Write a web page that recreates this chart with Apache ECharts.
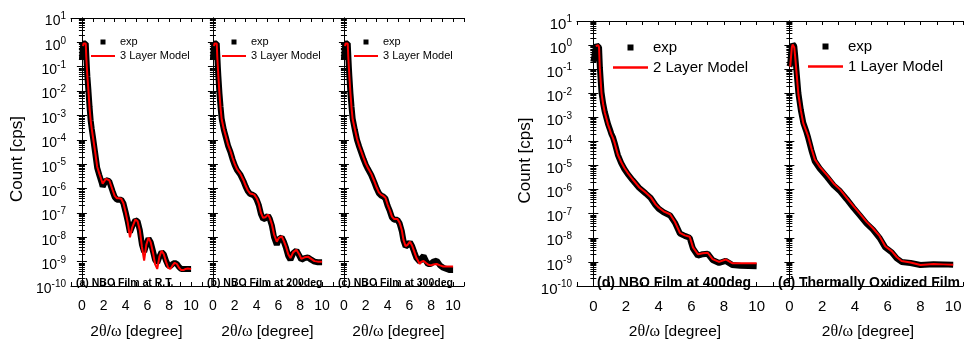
<!DOCTYPE html>
<html><head><meta charset="utf-8">
<script src="https://cdn.jsdelivr.net/npm/echarts@6/dist/echarts.min.js"></script>
<style>html,body{margin:0;padding:0;background:#fff}#c{width:966px;height:345px}</style>
</head><body><div id="c"></div>
<script>
// ---------- data ----------
const xA = [0.0,0.05,0.1,0.15,0.2,0.3,0.35,0.4,0.45,0.5,0.6,0.7,0.8,0.9,1.0,1.2,1.4,1.6,1.8,1.9,2.0,2.2,2.35,2.5,2.8,3.0,3.2,3.4,3.6,3.8,4.0,4.2,4.4,4.6,4.9,5.1,5.3,5.5,5.7,5.9,6.1,6.3,6.5,6.7,6.9,7.1,7.3,7.5,7.7,7.9,8.1,8.3,8.5,8.7,8.9,9.1,9.3,9.5,9.7,10.0];
const expA = [2e-1,4e-1,7e-1,9e-1,1.0,1.0,9e-1,3e-1,1e-1,4e-2,1e-2,2.2e-3,6.3e-4,2.8e-4,1.4e-4,3.2e-5,7e-6,3.5e-6,1.8e-6,1.2e-6,1.3e-6,2.2e-6,2.5e-6,2e-6,8e-7,4.5e-7,3.5e-7,3.5e-7,3.5e-7,2.5e-7,1.1e-7,4.5e-8,1.6e-8,2.8e-8,5e-8,4.5e-8,2e-8,5e-9,2.5e-9,5e-9,9e-9,6.3e-9,2.8e-9,1.2e-9,9e-10,1.6e-9,2.5e-9,2e-9,1.1e-9,7e-10,6.5e-10,8e-10,9e-10,8e-10,6e-10,5e-10,5e-10,5e-10,5e-10,5e-10];
const modelA = [null,null,7e-1,9e-1,1.0,1.0,9e-1,2.5e-1,1e-1,4e-2,1e-2,2e-3,6.3e-4,2.8e-4,1.4e-4,3.5e-5,7.9e-6,4e-6,2.2e-6,1.6e-6,1.8e-6,2.5e-6,2.8e-6,2.2e-6,8.9e-7,5e-7,4e-7,4e-7,3.8e-7,2.5e-7,1.1e-7,4e-8,1e-8,2.5e-8,5.4e-8,4.5e-8,2e-8,4e-9,1.1e-9,5e-9,9.5e-9,6.3e-9,2.5e-9,8e-10,5e-10,1.6e-9,2.8e-9,2e-9,1e-9,5.6e-10,5e-10,7e-10,9e-10,8e-10,5.6e-10,4.5e-10,4.5e-10,5e-10,5.2e-10,5e-10];

const xB = [0.0,0.05,0.1,0.15,0.2,0.3,0.35,0.4,0.45,0.5,0.6,0.7,0.8,1.0,1.2,1.4,1.6,1.8,2.0,2.2,2.5,2.8,3.0,3.2,3.4,3.6,3.8,4.0,4.2,4.4,4.6,4.8,5.05,5.2,5.4,5.6,5.85,6.05,6.3,6.5,6.7,6.9,7.1,7.35,7.65,7.9,8.1,8.4,8.7,9.0,9.3,9.6,10.0];
const expB = [2e-1,4e-1,7e-1,9e-1,1.0,1.0,9e-1,3e-1,1e-1,4e-2,8e-3,2.2e-3,7.5e-4,2.6e-4,1.2e-4,5.5e-5,3.2e-5,1.6e-5,9e-6,5.8e-6,3.8e-6,2e-6,1.2e-6,7.8e-7,6e-7,5.6e-7,5e-7,3.6e-7,2.1e-7,9e-8,5.6e-8,6e-8,7.8e-8,5.8e-8,3e-8,1e-8,5e-9,8.5e-9,1e-8,6.5e-9,3.6e-9,1.7e-9,1.2e-9,2.2e-9,2.9e-9,1.8e-9,1.2e-9,1.4e-9,1.5e-9,1.2e-9,1e-9,9.5e-10,9.5e-10];
const modelB = [null,null,7e-1,9e-1,1.0,1.0,9e-1,2.5e-1,1e-1,4e-2,8e-3,2e-3,7e-4,2.8e-4,1.3e-4,6e-5,3.5e-5,1.8e-5,1e-5,6.3e-6,4.1e-6,2.2e-6,1.3e-6,8.3e-7,6.3e-7,6e-7,5.5e-7,4e-7,2.4e-7,1e-7,6.3e-8,6.6e-8,8.5e-8,6.3e-8,3.4e-8,1.3e-8,6.6e-9,9.5e-9,1.1e-8,7e-9,4e-9,2e-9,1.4e-9,2.4e-9,3.1e-9,2e-9,1.3e-9,1.5e-9,1.6e-9,1.3e-9,1.05e-9,1e-9,1e-9];

const xC = [0.0,0.05,0.1,0.15,0.2,0.3,0.35,0.4,0.45,0.5,0.6,0.7,0.8,1.0,1.2,1.4,1.6,1.8,2.0,2.2,2.5,2.8,3.0,3.2,3.4,3.6,3.8,4.0,4.2,4.4,4.6,4.9,5.1,5.3,5.45,5.65,5.85,6.05,6.25,6.45,6.65,6.95,7.1,7.3,7.5,7.7,7.95,8.2,8.5,8.8,9.1,9.4,9.7,10.0];
const expC = [2e-1,4e-1,7e-1,9e-1,1.0,1.0,9e-1,3e-1,1e-1,4e-2,8e-3,2.2e-3,7.5e-4,2.6e-4,1e-4,5.2e-5,2.9e-5,1.6e-5,9.5e-6,6.3e-6,3.6e-6,1.7e-6,1e-6,6.5e-7,5.2e-7,4.7e-7,3.9e-7,2e-7,1.2e-7,6.5e-8,5.2e-8,5.2e-8,3.7e-8,1.8e-8,7.5e-9,4.2e-9,4.8e-9,6.3e-9,4.3e-9,2.4e-9,1.4e-9,1e-9,1.4e-9,1.7e-9,1.1e-9,8e-10,8e-10,1e-9,1.1e-9,7e-10,5.6e-10,5e-10,4.5e-10,4.5e-10];
const modelC = [null,null,7e-1,9e-1,1.0,1.0,9e-1,2.5e-1,1e-1,4e-2,8e-3,2e-3,7e-4,2.8e-4,1.1e-4,5.6e-5,3.2e-5,1.8e-5,1.05e-5,7e-6,4e-6,1.9e-6,1.1e-6,7e-7,5.6e-7,5e-7,4.2e-7,2.2e-7,1.3e-7,7e-8,5.6e-8,5.6e-8,4e-8,2e-8,8e-9,4.3e-9,5e-9,6.6e-9,4.5e-9,2.5e-9,1.4e-9,8e-10,1e-9,1.07e-9,9e-10,7.6e-10,7e-10,7.6e-10,8e-10,7e-10,6.3e-10,6.3e-10,6.3e-10,6.3e-10];

const xD = [0.0,0.05,0.1,0.15,0.2,0.3,0.35,0.4,0.45,0.5,0.6,0.7,0.8,0.9,1.0,1.1,1.2,1.3,1.5,1.7,1.9,2.1,2.4,2.8,3.2,3.5,3.8,4.0,4.3,4.7,5.0,5.3,5.6,5.9,6.1,6.4,6.7,7.0,7.3,7.7,8.1,8.5,9.0,9.5,10.0];
const expD = [2e-1,3e-1,5e-1,8e-1,1.0,1.0,8e-1,1.2e-1,3.5e-2,1.1e-2,3.8e-3,1.7e-3,9.5e-4,5.3e-4,3.4e-4,2.1e-4,1.5e-4,9e-5,2.8e-5,1.3e-5,7.2e-6,4.5e-6,2.5e-6,1.2e-6,7e-7,4.6e-7,2.3e-7,1.6e-7,1.15e-7,8.5e-8,4.2e-8,1.5e-8,1.2e-8,1e-8,3.6e-9,1.8e-9,2.1e-9,2.2e-9,1.2e-9,9e-10,1.1e-9,7.5e-10,7e-10,6.8e-10,6.6e-10];
const modelD = [null,null,null,9e-1,1.0,1.0,8e-1,1e-1,3.2e-2,1e-2,3.5e-3,1.6e-3,8.9e-4,5e-4,3.2e-4,2e-4,1.4e-4,8.9e-5,2.8e-5,1.4e-5,7.9e-6,5e-6,2.7e-6,1.26e-6,7.6e-7,5e-7,2.5e-7,1.8e-7,1.26e-7,9.5e-8,4.5e-8,1.6e-8,1.26e-8,1.1e-8,4e-9,2.1e-9,2.3e-9,2.4e-9,1.3e-9,1e-9,1.26e-9,8.9e-10,8.7e-10,8.9e-10,8.9e-10];

const xE = [0.0,0.05,0.1,0.15,0.2,0.25,0.3,0.35,0.45,0.55,0.7,0.85,1.05,1.15,1.35,1.55,1.85,2.3,2.7,3.1,3.5,3.9,4.3,4.7,5.1,5.5,5.85,6.25,6.55,6.85,7.4,8.0,8.8,9.4,10.0];
const expE = [1.3e-1,1.6e-1,4e-1,8e-1,1.1,1.1,9e-1,4e-1,6.3e-2,1e-2,2e-3,6e-4,2.4e-4,1.4e-4,4.2e-5,1.5e-5,7.5e-6,3.3e-6,1.5e-6,8.5e-7,4e-7,1.8e-7,8.5e-8,4e-8,2.2e-8,1e-8,4e-9,2.5e-9,1.4e-9,1e-9,9e-10,7.4e-10,8e-10,7.9e-10,7.6e-10];
const modelE = [null,1.26e-1,3.2e-1,7.9e-1,1.05,1.05,7.9e-1,3.5e-1,5.6e-2,8.9e-3,1.9e-3,5.6e-4,2.5e-4,1.6e-4,5e-5,1.8e-5,8.9e-6,4e-6,1.8e-6,1e-6,4.6e-7,2.1e-7,1e-7,4.7e-8,2.5e-8,1.2e-8,4.5e-9,2.8e-9,1.6e-9,1.1e-9,9.5e-10,7.4e-10,8.1e-10,7.9e-10,7.6e-10];

const panelLabels = ['(a) NBO Film at R.T.', '(b) NBO Film at 200deg', '(c) NBO Film at 300deg', '(d) NBO Film at 400deg', '(e) Thermally Oxidized Film'];
const modelNames = ['3 Layer Model', '3 Layer Model', '3 Layer Model', '2 Layer Model', '1 Layer Model'];
const expName = 'exp';
const xTickLabels = [0, 2, 4, 6, 8, 10];
const xName = '2{g|θ}/{g|ω} [degree]';
const yName = 'Count [cps]';

// ---------- layout / style ----------
const FONT = 'Liberation Sans, Arial, sans-serif';
const SERIF = 'Liberation Serif, DejaVu Serif, serif';
const xs = [xA, xB, xC, xD, xE];
const exps = [expA, expB, expC, expD, expE];
const models = [modelA, modelB, modelC, modelD, modelE];
const L = [
  {left:71, top:18, width:131, height:276, max:11, ylab:true, big:false, lg:{left:91, top:36}, tl:{left:76, top:278}},
  {left:202, top:18, width:131, height:276, max:11, ylab:false, big:false, lg:{left:222, top:36}, tl:{left:207, top:278}},
  {left:333, top:18, width:131, height:276, max:11, ylab:false, big:false, lg:{left:354, top:36}, tl:{left:338, top:278}},
  {left:577, top:21, width:196, height:273, max:11, ylab:true, big:true, lg:{left:613, top:40}, tl:{left:597, top:276}},
  {left:773, top:21, width:190, height:273, max:10.6, ylab:false, big:true, lg:{left:808, top:39}, tl:{left:778, top:276}}
];

function pairs(x, y) { const out = []; for (let i = 0; i < x.length; i++) if (y[i] != null) out.push([x[i], y[i]]); return out; }
function decade(v) { const e = Math.round(Math.log10(v)); return '{b|10}{s|' + e + '}'; }
function xLab(v) { return xTickLabels.indexOf(v) >= 0 ? String(v) : ''; }

const AX = {color:'#000', width:1};
const grid = [], xAxis = [], yAxis = [], series = [], legend = [], title = [];
L.forEach((p, i) => {
  grid.push({left:p.left, top:p.top, width:p.width, height:p.height, containLabel:false});
  const fs = p.big ? 15 : 14;
  xAxis.push({type:'value', gridIndex:i, min:-1, max:p.max, interval:1, position:'bottom',
    axisLine:{show:true, onZero:false, lineStyle:AX}, axisTick:{inside:true, length:4, lineStyle:AX},
    axisLabel:{formatter:xLab, color:'#000', fontSize:fs, fontFamily:FONT, margin:13, showMinLabel:true, showMaxLabel:true},
    splitLine:{show:false},
    name:xName, nameLocation:'middle', nameGap:38,
    nameTextStyle:{color:'#000', fontSize:15.5, fontFamily:FONT, rich:{g:{fontFamily:SERIF, fontSize:16, color:'#000'}}}
  });
  xAxis.push({type:'value', gridIndex:i, min:-1, max:p.max, interval:1, position:'top',
    axisLine:{show:true, onZero:false, lineStyle:AX}, axisTick:{inside:true, length:4, lineStyle:AX},
    axisLabel:{show:false}, splitLine:{show:false}});
  const yl = {type:'log', logBase:10, gridIndex:i, min:1e-10, max:10, interval:1, position:'left',
    axisLine:{show:true, lineStyle:AX}, axisTick:{inside:true, length:5, lineStyle:AX},
    minorTick:{show:true, splitNumber:9, length:3, lineStyle:AX},
    axisLabel:{show:p.ylab, formatter:decade, margin:5, color:'#000', padding:[7,0,0,0],
      rich:{b:{fontSize:fs, fontFamily:FONT, color:'#000', lineHeight:20},
            s:{fontSize:10, fontFamily:FONT, color:'#000', verticalAlign:'top', lineHeight:10}}},
    splitLine:{show:false}, minorSplitLine:{show:false}};
  if (p.ylab) { yl.name = yName; yl.nameLocation = 'middle'; yl.nameGap = p.big ? 43 : 45;
    yl.nameTextStyle = {color:'#000', fontSize:17, fontFamily:FONT, padding:[0,14,0,0]}; }
  yAxis.push(yl);
  yAxis.push({type:'log', logBase:10, gridIndex:i, min:1e-10, max:10, interval:1, position:'right',
    axisLine:{show:true, lineStyle:AX}, axisTick:{inside:true, length:5, lineStyle:AX},
    minorTick:{show:true, splitNumber:9, length:3, lineStyle:AX},
    axisLabel:{show:false}, splitLine:{show:false}, minorSplitLine:{show:false}});
  series.push({name:expName, type:'line', xAxisIndex:2*i, yAxisIndex:2*i, data:pairs(xs[i], exps[i]),
    symbol:'none', showSymbol:false, lineStyle:{color:'#000', width:6}, itemStyle:{color:'#000'}, z:2, animation:false, silent:true});
  series.push({name:modelNames[i], type:'line', xAxisIndex:2*i, yAxisIndex:2*i, data:pairs(xs[i], models[i]),
    symbol:'none', showSymbol:false, lineStyle:{color:'#ff0000', width:2}, itemStyle:{color:'#ff0000'}, z:3, animation:false, silent:true});
  const w = p.big ? 35 : 24, h = p.big ? 14 : 12;
  const sq = p.big ? 'M14.5,4H20.5V10H14.5Z' : 'M9.5,3.5H14.5V8.5H9.5Z';
  const ln = p.big ? 'M0,5.8H35V8.2H0Z' : 'M0,5H24V7H0Z';
  const corners = 'M0,0L0.01,0L0,0.01Z M' + w + ',' + h + 'L' + (w - 0.01) + ',' + h + 'L' + w + ',' + (h - 0.01) + 'Z';
  legend.push({left:p.lg.left, top:p.lg.top, orient:'vertical', itemWidth:w, itemHeight:h, itemGap:p.big ? 5 : 2,
    padding:0, selectedMode:false,
    textStyle:{color:'#000', fontSize:p.big ? 15 : 11, fontFamily:FONT},
    data:[{name:expName, icon:'path://' + corners + ' ' + sq}, {name:modelNames[i], icon:'path://' + corners + ' ' + ln}]});
  title.push({text:panelLabels[i], left:p.tl.left, top:p.tl.top, padding:0,
    textStyle:{color:'#000', fontSize:p.big ? 14 : 10.5, fontWeight:'bold', fontFamily:FONT}});
});

const chart = echarts.init(document.getElementById('c'), null, {renderer:'canvas'});
chart.setOption({backgroundColor:'#fff', animation:false, grid, xAxis, yAxis, series, legend, title});
</script>
</body></html>
